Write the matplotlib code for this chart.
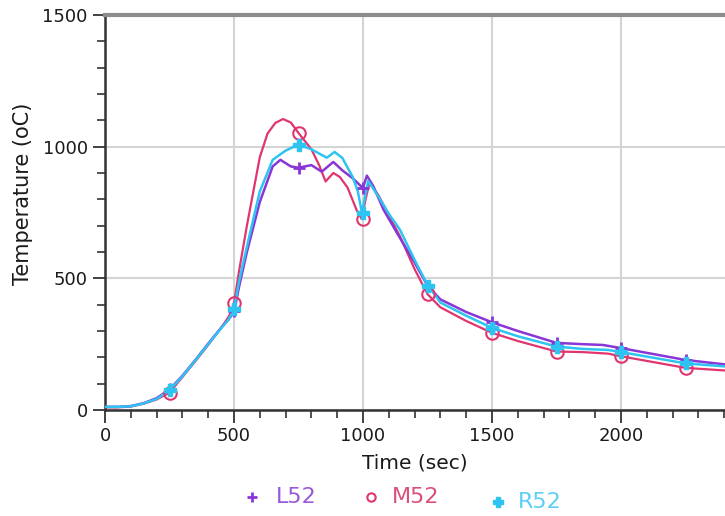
import matplotlib
matplotlib.use("Agg")
import matplotlib.pyplot as plt
from matplotlib.ticker import MultipleLocator, FixedLocator

# ---- data ----
t_L = [0, 50, 100, 150, 200, 250, 300, 350, 400, 450, 480, 500, 520, 550, 600, 650, 680, 720, 750, 800, 840, 885,
       920, 960, 990, 1000, 1015, 1040, 1080, 1132, 1200, 1250, 1300, 1400, 1500, 1600, 1750, 1850, 1930, 2000,
       2250, 2450]
v_L = [12, 12, 15, 26, 45, 78, 130, 190, 252, 312, 345, 372, 470, 600, 790, 925, 950, 925, 920, 930, 905, 942,
       910, 880, 852, 845, 890, 850, 760, 672, 560, 472, 420, 372, 333, 300, 255, 250, 247, 235, 190, 168]

t_M = [0, 50, 100, 150, 200, 250, 300, 350, 400, 450, 480, 500, 520, 550, 600, 630, 660, 690, 720, 750, 800, 830,
       855, 885, 910, 940, 975, 995, 1010, 1025, 1060, 1100, 1143, 1200, 1250, 1300, 1400, 1500, 1600, 1750, 1850,
       1950, 2000, 2250, 2450]
v_M = [10, 10, 13, 24, 40, 66, 125, 185, 247, 312, 355, 405, 530, 700, 960, 1050, 1090, 1105, 1092, 1052, 990,
       930, 868, 900, 885, 845, 760, 725, 800, 862, 815, 740, 660, 535, 440, 390, 338, 293, 262, 222, 220, 214,
       204, 160, 147]

t_R = [0, 50, 100, 150, 200, 250, 300, 350, 400, 450, 480, 500, 520, 550, 600, 650, 700, 750, 800, 860, 890, 920,
       960, 980, 996, 1010, 1020, 1060, 1100, 1143, 1200, 1250, 1300, 1400, 1500, 1600, 1750, 1850, 1950, 2000,
       2250, 2450]
v_R = [12, 12, 14, 25, 42, 75, 128, 188, 250, 310, 345, 382, 490, 620, 830, 950, 985, 1008, 990, 958, 980, 957,
       885, 830, 748, 820, 870, 810, 745, 685, 570, 475, 408, 358, 312, 280, 241, 232, 228, 220, 177, 162]

mk_t = [250, 500, 750, 1000, 1250, 1500, 1750, 2000, 2250]
mk_L = [80, 375, 918, 843, 472, 333, 255, 236, 190]
mk_M = [65, 405, 1052, 725, 440, 293, 222, 205, 160]
mk_R = [75, 382, 1005, 748, 470, 312, 241, 220, 177]

x_ticks = [0, 500, 1000, 1500, 2000]
y_ticks = [0, 500, 1000, 1500]
labels = ["L52", "M52", "R52"]
c_L, c_M, c_R = "#8a35d6", "#e0356e", "#2ec4f2"
t_L_c, t_M_c, t_R_c = "#9a5ad8", "#d9507a", "#5ccff5"

fig = plt.figure(figsize=(7.25, 5.16), dpi=100)
W, H = 725, 516
x0, ytop, ybot = 105, 15, 410
px_per_sec = 129 / 500
xmax = 2500
ax = fig.add_axes([x0 / W, 1 - ybot / H, xmax * px_per_sec / W, (ybot - ytop) / H])

ax.plot(t_L, v_L, color=c_L, lw=1.8, zorder=3)
ax.plot(t_R, v_R, color=c_R, lw=1.8, zorder=4)
ax.plot(t_M, v_M, color=c_M, lw=1.6, zorder=2)
ax.plot(mk_t, mk_L, ls="none", marker="+", ms=9, mew=2, color=c_L, zorder=5)
ax.plot(mk_t, mk_M, ls="none", marker="o", ms=9, mew=1.5, mfc="none", mec=c_M, zorder=5)
ax.plot(mk_t, mk_R, ls="none", marker="P", ms=9, color=c_R, zorder=6)

ax.set_xlim(0, xmax)
ax.set_ylim(0, 1500)
ax.xaxis.set_major_locator(FixedLocator(x_ticks))
ax.xaxis.set_minor_locator(MultipleLocator(100))
ax.yaxis.set_major_locator(FixedLocator(y_ticks))
ax.yaxis.set_minor_locator(MultipleLocator(100))
ax.grid(True, which="major", color="#d4d4d4", lw=1.5)
ax.set_axisbelow(True)
ax.tick_params(which="major", direction="out", length=9, width=1.3, color="#333333",
               labelsize=13, labelcolor="#1a1a1a")
ax.tick_params(which="minor", direction="out", length=6, width=1.2, color="#333333")
for s in ["left", "bottom"]:
    ax.spines[s].set_color("#333333")
    ax.spines[s].set_linewidth(1.8)
ax.spines["top"].set_color("#8c8c8c")
ax.spines["top"].set_linewidth(3)
ax.spines["right"].set_visible(False)

fig.text(415 / W, 1 - 463 / H, "Time (sec)", fontsize=14.5, ha="center", va="center",
         color="#1a1a1a")
fig.text(23 / W, 1 - 194 / H, "Temperature (oC)", rotation=90, fontsize=15,
         ha="center", va="center", color="#1a1a1a")

# legend (drawn in a figure-pixel overlay)
ov = fig.add_axes([0, 0, 1, 1])
ov.set_xlim(0, W)
ov.set_ylim(H, 0)
ov.axis("off")
leg_items = [("+", c_L, t_L_c, 252, 276, 497, dict(ms=7, mew=2)),
             ("o", c_M, t_M_c, 371, 392, 497, dict(ms=6, mew=1.5, mfc="none")),
             ("P", c_R, t_R_c, 498, 518, 502, dict(ms=7))]
for (m, c, tc, mx, tx, yy, kw), lab in zip(leg_items, labels):
    ov.plot([mx], [yy], ls="none", marker=m, color=c, **kw)
    ov.text(tx, yy, lab, color=tc, fontsize=16, ha="left", va="center")

fig.savefig("out.png", dpi=100)
